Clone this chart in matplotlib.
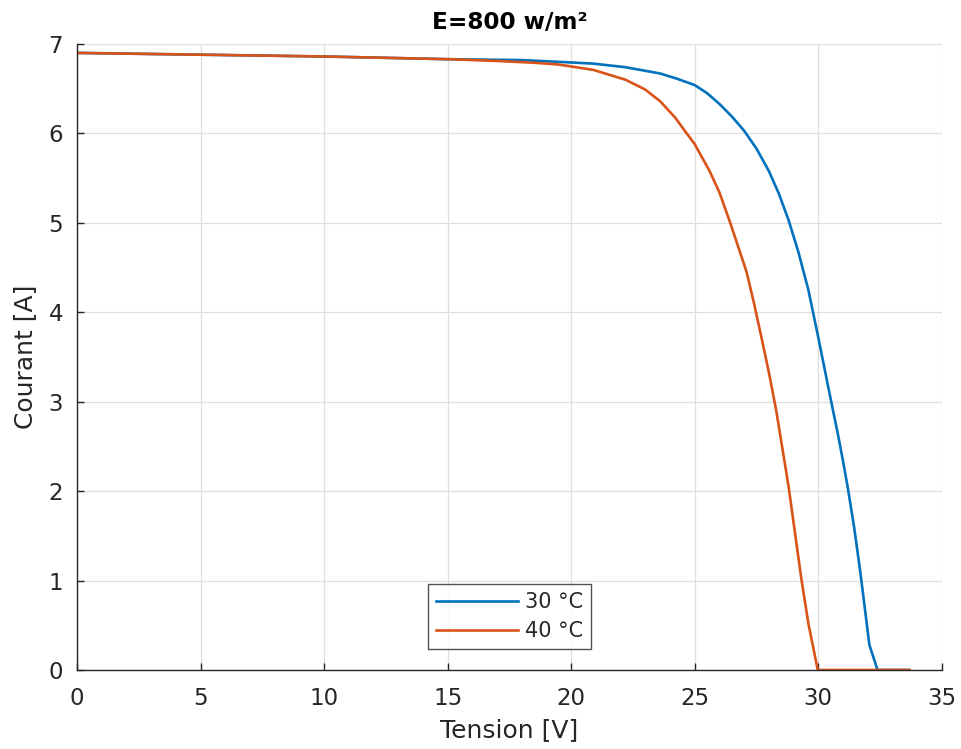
import matplotlib
matplotlib.use("Agg")
import matplotlib.pyplot as plt

# Data
v_30 = [0, 5, 10, 15, 18, 19.5, 20.9, 22.2, 23.6, 24.3, 25.0, 25.5, 26.0, 26.5, 27.0, 27.5, 28.0,
        28.4, 28.8, 29.2, 29.6, 30.0, 30.4, 30.8, 31.0, 31.2, 31.45, 31.7, 32.07, 32.4, 33.7]
i_30 = [6.90, 6.88, 6.86, 6.83, 6.82, 6.80, 6.78, 6.74, 6.67, 6.61, 6.54, 6.45, 6.33, 6.19, 6.03, 5.83, 5.58,
        5.33, 5.03, 4.67, 4.25, 3.72, 3.17, 2.63, 2.34, 2.03, 1.60, 1.10, 0.28, 0.0, 0.0]

v_40 = [0, 5, 10, 15, 17, 18.5, 19.5, 20.9, 22.2, 23.0, 23.6, 24.2, 24.65, 25.0, 25.6, 26.0, 26.4,
        26.8, 27.1, 27.4, 27.7, 28.0, 28.3, 28.8, 29.3, 29.6, 29.98, 33.7]
i_40 = [6.90, 6.88, 6.86, 6.83, 6.81, 6.79, 6.77, 6.71, 6.60, 6.49, 6.36, 6.18, 6.01, 5.88, 5.58, 5.34, 5.03,
        4.70, 4.45, 4.10, 3.72, 3.33, 2.90, 2.05, 1.05, 0.52, 0.0, 0.0]

labels = ["30 °C", "40 °C"]
x_ticks = [0, 5, 10, 15, 20, 25, 30, 35]
y_ticks = [0, 1, 2, 3, 4, 5, 6, 7]

plt.rcParams['font.family'] = ['DejaVu Sans']

fig = plt.figure(figsize=(9.62, 7.49), dpi=100)
ax = fig.add_axes([0.080, 0.1055, 0.899, 0.8358])

ax.plot(v_30, i_30, color='#0072BD', lw=1.9, label=labels[0])
ax.plot(v_40, i_40, color='#D95319', lw=1.9, label=labels[1])

ax.set_xlim(0, 35)
ax.set_ylim(0, 7)
ax.set_xticks(x_ticks)
ax.set_yticks(y_ticks)
ax.grid(True, color='#dfdfdf', lw=0.9)
ax.set_axisbelow(True)
for s in ['top', 'right']:
    ax.spines[s].set_visible(False)
for s in ['left', 'bottom']:
    ax.spines[s].set_color('#262626')
    ax.spines[s].set_linewidth(1.0)
ax.tick_params(direction='in', length=5, width=1, colors='#262626', labelsize=16.5)
ax.tick_params(axis='x', pad=12)
ax.tick_params(axis='y', pad=10)

ax.set_xlabel('Tension [V]', fontsize=18, color='#262626', labelpad=6)
ax.set_ylabel('Courant [A]', fontsize=18, color='#262626', labelpad=8)
ax.set_title('E=800 w/m²', fontsize=16.7, fontweight='bold', pad=11)

leg = ax.legend(loc='lower center', bbox_to_anchor=(0.5, 21 / 626), borderaxespad=0,
                fontsize=15, fancybox=False, frameon=True, edgecolor='#262626',
                handlelength=3.95, handletextpad=0.3, borderpad=0.38, labelspacing=0.42)
leg.get_frame().set_linewidth(1.0)
for t in leg.get_texts():
    t.set_color('#262626')

fig.savefig('out.png', dpi=100, facecolor='white')
